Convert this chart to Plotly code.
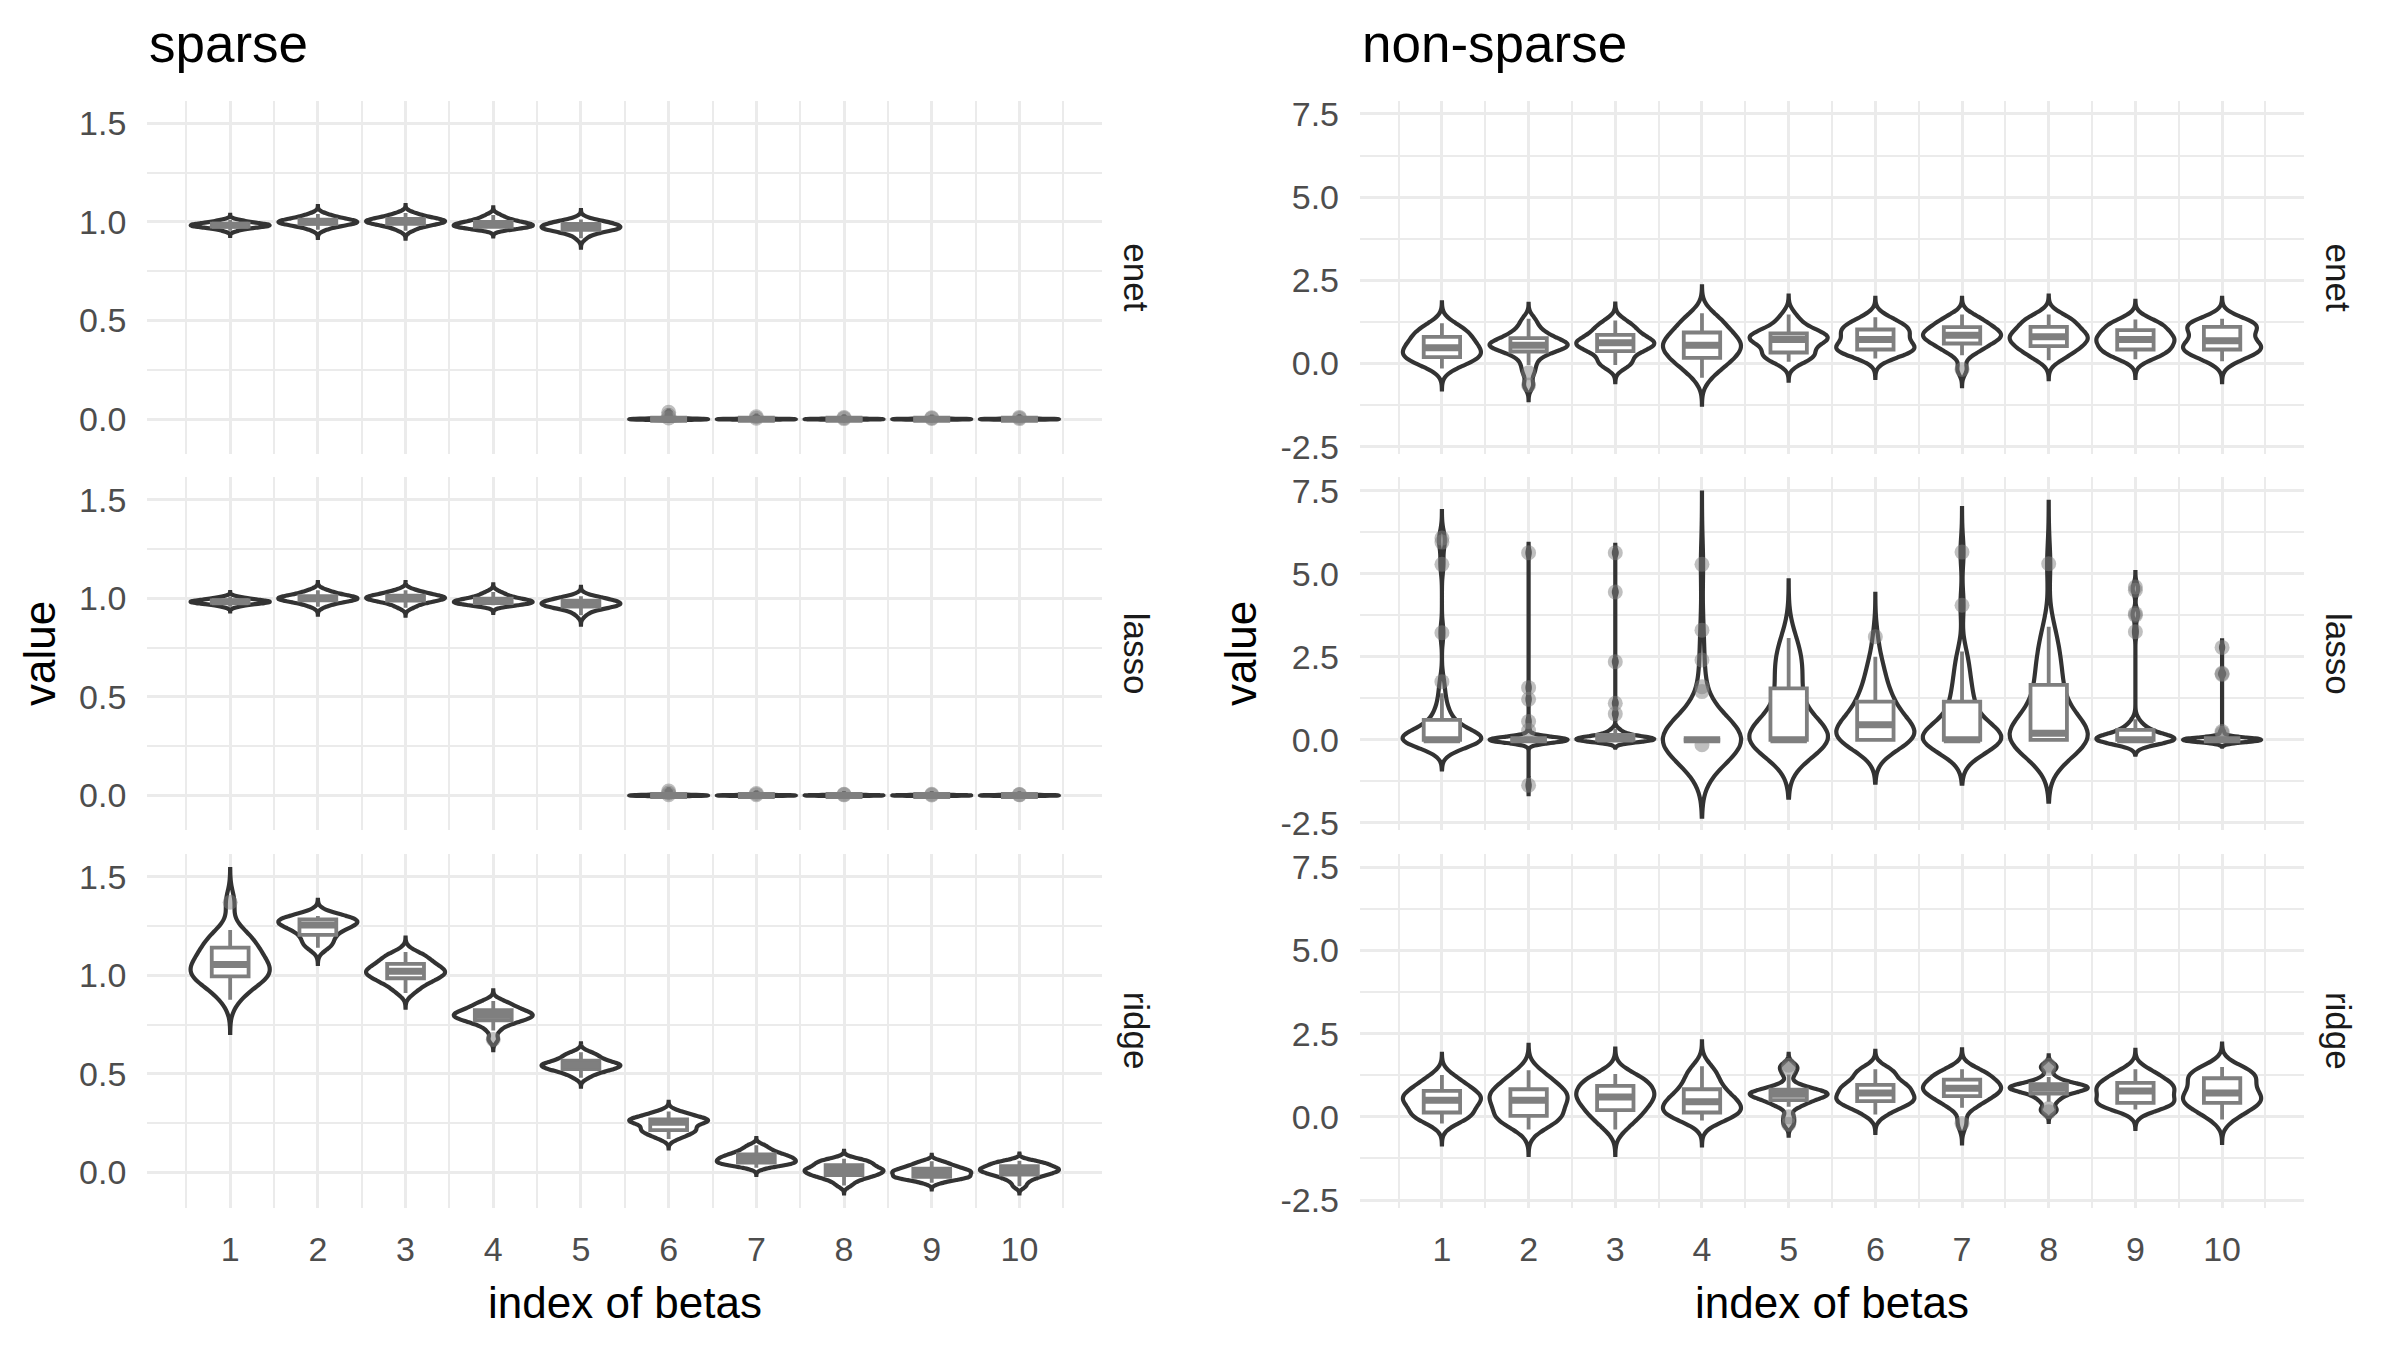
import numpy as np
import plotly.graph_objects as go

# ---------------- data ----------------
betas = [1, 2, 3, 4, 5, 6, 7, 8, 9, 10]
methods = ["enet", "lasso", "ridge"]
panel_titles = ["sparse", "non-sparse"]

y_ticks_sparse = [0.0, 0.5, 1.0, 1.5]
y_ticklabels_sparse = ["0.0", "0.5", "1.0", "1.5"]
y_ticks_nonsparse = [-2.5, 0.0, 2.5, 5.0, 7.5]
y_ticklabels_nonsparse = ["-2.5", "0.0", "2.5", "5.0", "7.5"]

sparse_enet = [
    [0.955, 0.962, 0.967, 0.971, 0.974, 0.976, 0.978, 0.980, 0.981, 0.982, 0.983, 0.984, 0.985, 0.987, 0.989, 0.991, 0.994, 0.997, 1.000, 1.005, 1.010],
    [0.960, 0.970, 0.977, 0.983, 0.987, 0.990, 0.993, 0.995, 0.997, 0.999, 1.000, 1.001, 1.003, 1.005, 1.008, 1.011, 1.015, 1.020, 1.027, 1.033, 1.040],
    [0.955, 0.967, 0.976, 0.982, 0.987, 0.990, 0.994, 0.997, 0.999, 1.001, 1.003, 1.005, 1.007, 1.009, 1.012, 1.015, 1.019, 1.024, 1.030, 1.037, 1.045],
    [0.965, 0.968, 0.970, 0.972, 0.974, 0.975, 0.978, 0.981, 0.983, 0.985, 0.987, 0.989, 0.991, 0.994, 0.997, 1.000, 1.005, 1.011, 1.018, 1.026, 1.035],
    [0.917, 0.935, 0.948, 0.955, 0.958, 0.960, 0.963, 0.966, 0.969, 0.972, 0.975, 0.977, 0.979, 0.981, 0.984, 0.990, 0.993, 0.997, 1.001, 1.006, 1.012],
    [0, 0, 0, 0, 0, 0, 0, 0, 0, 0, 0, 0, 0, 0, 0, 0, 0, 0, 0.006, 0.020, 0.035],
    [0, 0, 0, 0, 0, 0, 0, 0, 0, 0, 0, 0, 0, 0, 0, 0, 0, 0, 0, 0.005, 0.012],
    [0, 0, 0, 0, 0, 0, 0, 0, 0, 0, 0, 0, 0, 0, 0, 0, 0, 0, 0, 0.003, 0.008],
    [0, 0, 0, 0, 0, 0, 0, 0, 0, 0, 0, 0, 0, 0, 0, 0, 0, 0, 0, 0.004, 0.007],
    [0, 0, 0, 0, 0, 0, 0, 0, 0, 0, 0, 0, 0, 0, 0, 0, 0, 0, 0, 0.003, 0.009],
]
sparse_lasso = [
    [0.958, 0.963, 0.968, 0.972, 0.975, 0.977, 0.979, 0.980, 0.981, 0.982, 0.983, 0.984, 0.985, 0.986, 0.988, 0.990, 0.993, 0.996, 0.999, 1.003, 1.008],
    [0.958, 0.969, 0.977, 0.982, 0.986, 0.990, 0.993, 0.995, 0.997, 0.999, 1.000, 1.002, 1.004, 1.006, 1.009, 1.012, 1.016, 1.021, 1.028, 1.035, 1.042],
    [0.953, 0.963, 0.973, 0.980, 0.985, 0.989, 0.993, 0.996, 0.998, 1.000, 1.002, 1.004, 1.006, 1.008, 1.011, 1.014, 1.018, 1.023, 1.029, 1.036, 1.042],
    [0.966, 0.969, 0.971, 0.973, 0.975, 0.976, 0.978, 0.980, 0.982, 0.984, 0.986, 0.988, 0.990, 0.993, 0.996, 0.999, 1.004, 1.010, 1.017, 1.025, 1.033],
    [0.915, 0.934, 0.947, 0.954, 0.957, 0.959, 0.962, 0.965, 0.968, 0.971, 0.974, 0.976, 0.978, 0.980, 0.983, 0.989, 0.992, 0.996, 1.000, 1.005, 1.011],
    [0, 0, 0, 0, 0, 0, 0, 0, 0, 0, 0, 0, 0, 0, 0, 0, 0, 0, 0.004, 0.012, 0.022],
    [0, 0, 0, 0, 0, 0, 0, 0, 0, 0, 0, 0, 0, 0, 0, 0, 0, 0, 0, 0.004, 0.010],
    [0, 0, 0, 0, 0, 0, 0, 0, 0, 0, 0, 0, 0, 0, 0, 0, 0, 0, 0, 0.003, 0.006],
    [0, 0, 0, 0, 0, 0, 0, 0, 0, 0, 0, 0, 0, 0, 0, 0, 0, 0, 0, 0.002, 0.006],
    [0, 0, 0, 0, 0, 0, 0, 0, 0, 0, 0, 0, 0, 0, 0, 0, 0, 0, 0, 0.003, 0.005],
]
sparse_ridge = [
    [0.876, 0.920, 0.950, 0.970, 0.985, 0.995, 1.005, 1.015, 1.025, 1.040, 1.055, 1.070, 1.085, 1.100, 1.120, 1.140, 1.160, 1.180, 1.200, 1.230, 1.370],
    [1.140, 1.150, 1.160, 1.180, 1.200, 1.205, 1.220, 1.235, 1.245, 1.250, 1.255, 1.260, 1.265, 1.270, 1.275, 1.283, 1.287, 1.290, 1.293, 1.297, 1.300],
    [0.910, 0.935, 0.952, 0.965, 0.976, 0.985, 0.993, 1.000, 1.007, 1.013, 1.020, 1.026, 1.032, 1.039, 1.047, 1.058, 1.068, 1.079, 1.090, 1.103, 1.118],
    [0.675, 0.720, 0.745, 0.758, 0.766, 0.772, 0.778, 0.784, 0.789, 0.794, 0.798, 0.802, 0.806, 0.810, 0.816, 0.823, 0.830, 0.838, 0.847, 0.858, 0.870],
    [0.480, 0.497, 0.508, 0.515, 0.520, 0.525, 0.530, 0.535, 0.539, 0.542, 0.545, 0.548, 0.551, 0.555, 0.560, 0.567, 0.574, 0.582, 0.590, 0.600, 0.610],
    [0.170, 0.185, 0.195, 0.203, 0.210, 0.215, 0.222, 0.229, 0.236, 0.245, 0.255, 0.258, 0.261, 0.264, 0.267, 0.270, 0.276, 0.283, 0.290, 0.300, 0.310],
    [0.024, 0.035, 0.040, 0.044, 0.047, 0.050, 0.054, 0.058, 0.062, 0.066, 0.070, 0.074, 0.078, 0.082, 0.087, 0.092, 0.098, 0.105, 0.114, 0.125, 0.139],
    [-0.065, -0.045, -0.032, -0.024, -0.018, -0.013, -0.007, -0.002, 0.003, 0.007, 0.011, 0.015, 0.019, 0.024, 0.030, 0.037, 0.043, 0.049, 0.055, 0.062, 0.070],
    [-0.052, -0.040, -0.033, -0.028, -0.025, -0.022, -0.018, -0.013, -0.009, -0.004, 0.000, 0.003, 0.007, 0.011, 0.015, 0.020, 0.025, 0.031, 0.038, 0.047, 0.057],
    [-0.070, -0.048, -0.033, -0.024, -0.016, -0.010, -0.005, 0.000, 0.004, 0.008, 0.012, 0.016, 0.019, 0.022, 0.027, 0.032, 0.037, 0.042, 0.048, 0.054, 0.060],
]

nonsparse_enet = [
    [-0.15, 0.00, 0.08, 0.12, 0.16, 0.19, 0.25, 0.31, 0.37, 0.42, 0.47, 0.52, 0.58, 0.64, 0.72, 0.80, 0.86, 0.93, 1.00, 1.10, 1.21],
    [-0.65, -0.28, -0.05, 0.15, 0.28, 0.36, 0.42, 0.47, 0.50, 0.53, 0.55, 0.58, 0.61, 0.65, 0.70, 0.76, 0.82, 0.90, 1.00, 1.15, 1.34],
    [-0.05, -0.02, 0.03, 0.20, 0.33, 0.37, 0.45, 0.50, 0.54, 0.58, 0.62, 0.64, 0.67, 0.70, 0.77, 0.86, 0.93, 1.00, 1.08, 1.18, 1.29],
    [-0.43, -0.20, -0.05, 0.05, 0.12, 0.17, 0.28, 0.38, 0.45, 0.50, 0.55, 0.60, 0.66, 0.72, 0.82, 0.93, 1.00, 1.10, 1.22, 1.35, 1.51],
    [0.05, 0.12, 0.20, 0.25, 0.29, 0.33, 0.45, 0.58, 0.65, 0.69, 0.72, 0.75, 0.78, 0.81, 0.85, 0.90, 0.95, 1.03, 1.12, 1.28, 1.47],
    [0.15, 0.25, 0.33, 0.38, 0.40, 0.42, 0.47, 0.52, 0.56, 0.62, 0.72, 0.80, 0.86, 0.92, 0.97, 1.02, 1.07, 1.13, 1.20, 1.30, 1.39],
    [-0.18, 0.25, 0.38, 0.47, 0.55, 0.60, 0.66, 0.72, 0.77, 0.81, 0.85, 0.88, 0.92, 0.96, 1.02, 1.09, 1.14, 1.20, 1.27, 1.36, 1.47],
    [0.10, 0.22, 0.32, 0.40, 0.47, 0.52, 0.59, 0.65, 0.70, 0.75, 0.80, 0.84, 0.88, 0.93, 1.00, 1.10, 1.15, 1.22, 1.30, 1.38, 1.47],
    [0.13, 0.22, 0.30, 0.35, 0.39, 0.42, 0.50, 0.58, 0.64, 0.68, 0.72, 0.76, 0.80, 0.85, 0.92, 1.00, 1.06, 1.12, 1.18, 1.25, 1.32],
    [0.07, 0.18, 0.27, 0.33, 0.38, 0.42, 0.47, 0.52, 0.56, 0.60, 0.68, 0.78, 0.88, 0.95, 1.02, 1.10, 1.14, 1.18, 1.23, 1.28, 1.34],
]
nonsparse_lasso = [
    [-0.08, 0, 0, 0, 0, 0, 0, 0, 0, 0, 0, 0, 0, 0, 0, 0, 0, 0, 0, 0, 0,
     0.05, 0.10, 0.15, 0.20, 0.27, 0.33, 0.40, 0.47, 0.54, 0.60, 0.68, 0.80, 0.95, 1.15, 1.40,
     1.75, 3.22, 5.28, 5.95, 6.07],
    [-1.37, 0, 0, 0, 0, 0, 0, 0, 0, 0, 0, 0, 0, 0, 0, 0, 0, 0, 0, 0, 0,
     0, 0, 0, 0, 0, 0, 0, 0, 0, 0, 0, 0, 0, 0, 0, 0.28, 0.55, 1.22, 1.57, 5.63],
    [0, 0, 0, 0, 0, 0, 0, 0, 0, 0, 0, 0, 0, 0, 0, 0, 0, 0, 0, 0,
     0.02, 0.03, 0.04, 0.05, 0.06, 0.07, 0.08, 0.10, 0.11, 0.13, 0.15, 0.17, 0.20, 0.24, 0.28, 0.33,
     0.78, 1.10, 2.35, 4.45, 5.63],
    [-0.15, 0, 0, 0, 0, 0, 0, 0, 0, 0, 0, 0, 0, 0, 0, 0, 0, 0, 0, 0, 0,
     0, 0, 0, 0, 0, 0, 0, 0, 0, 0, 0, 0, 0, 0, 0, 1.45, 1.60, 2.40, 3.30, 5.28],
    [0, 0, 0, 0, 0, 0, 0, 0, 0, 0, 0, 0, 0, 0, 0, 0, 0, 0, 0, 0, 0,
     0.10, 0.20, 0.35, 0.50, 0.65, 0.80, 1.00, 1.20, 1.40, 1.55, 1.70, 1.85, 2.00, 2.15, 2.30,
     2.45, 2.60, 2.75, 2.90, 3.06],
    [0, 0, 0, 0, 0, 0, 0, 0, 0, 0, 0,
     0.04, 0.08, 0.12, 0.17, 0.22, 0.27, 0.32, 0.37, 0.41, 0.45, 0.50, 0.56, 0.62, 0.68, 0.75,
     0.82, 0.90, 0.98, 1.06, 1.15, 1.25, 1.35, 1.45, 1.60, 1.75, 1.90, 2.10, 2.30, 2.50, 3.10],
    [0, 0, 0, 0, 0, 0, 0, 0, 0, 0, 0, 0, 0, 0, 0, 0, 0, 0, 0, 0, 0,
     0.10, 0.20, 0.30, 0.42, 0.55, 0.68, 0.80, 0.92, 1.04, 1.15, 1.30, 1.45, 1.60, 1.80, 2.00,
     2.20, 2.45, 2.66, 4.05, 5.65],
    [0, 0, 0, 0, 0, 0, 0, 0, 0, 0, 0, 0, 0, 0, 0,
     0.02, 0.05, 0.08, 0.12, 0.16, 0.20, 0.30, 0.40, 0.55, 0.70, 0.85, 1.00, 1.15, 1.30, 1.48,
     1.65, 1.80, 1.95, 2.10, 2.30, 2.50, 2.70, 2.90, 3.15, 3.40, 5.30],
    [0, 0, 0, 0, 0, 0, 0, 0, 0, 0, 0, 0, 0, 0, 0, 0, 0, 0, 0, 0, 0,
     0.02, 0.04, 0.07, 0.10, 0.13, 0.16, 0.20, 0.23, 0.27, 0.30, 0.33, 0.37, 0.42, 0.50, 0.62,
     3.25, 3.75, 3.80, 4.50, 4.60],
    [0, 0, 0, 0, 0, 0, 0, 0, 0, 0, 0, 0, 0, 0, 0, 0, 0, 0, 0, 0, 0,
     0, 0, 0, 0, 0, 0, 0, 0, 0, 0, 0, 0, 0, 0, 0, 0.20, 0.25, 1.97, 2.00, 2.78],
]
nonsparse_ridge = [
    [-0.20, -0.08, 0.00, 0.06, 0.10, 0.13, 0.25, 0.35, 0.42, 0.47, 0.50, 0.55, 0.60, 0.65, 0.70, 0.78, 0.84, 0.92, 1.00, 1.12, 1.26],
    [-0.38, -0.22, -0.10, -0.03, 0.00, 0.03, 0.15, 0.27, 0.36, 0.44, 0.50, 0.56, 0.62, 0.68, 0.75, 0.83, 0.90, 1.00, 1.10, 1.24, 1.40],
    [-0.38, -0.20, -0.05, 0.06, 0.14, 0.20, 0.30, 0.40, 0.48, 0.55, 0.60, 0.65, 0.70, 0.76, 0.84, 0.93, 1.00, 1.07, 1.14, 1.21, 1.29],
    [-0.11, -0.02, 0.04, 0.08, 0.11, 0.13, 0.20, 0.27, 0.33, 0.39, 0.45, 0.51, 0.57, 0.64, 0.72, 0.83, 0.95, 1.08, 1.22, 1.36, 1.52],
    [-0.22, 0.00, 0.30, 0.38, 0.45, 0.50, 0.55, 0.60, 0.63, 0.66, 0.68, 0.70, 0.72, 0.75, 0.78, 0.82, 0.88, 0.98, 1.27, 1.45, 1.55],
    [0.07, 0.20, 0.30, 0.38, 0.43, 0.47, 0.51, 0.55, 0.58, 0.62, 0.72, 0.80, 0.85, 0.90, 0.93, 0.96, 1.05, 1.20, 1.32, 1.38, 1.43],
    [-0.20, 0.27, 0.38, 0.47, 0.55, 0.62, 0.68, 0.74, 0.78, 0.82, 0.86, 0.90, 0.94, 0.98, 1.04, 1.12, 1.18, 1.24, 1.30, 1.37, 1.43],
    [0.15, 0.25, 0.45, 0.55, 0.64, 0.70, 0.75, 0.79, 0.82, 0.84, 0.86, 0.88, 0.90, 0.92, 0.95, 0.98, 1.02, 1.08, 1.20, 1.45, 1.55],
    [0.22, 0.30, 0.35, 0.38, 0.40, 0.42, 0.48, 0.56, 0.64, 0.72, 0.78, 0.82, 0.86, 0.90, 0.96, 1.02, 1.08, 1.15, 1.23, 1.33, 1.43],
    [-0.08, 0.10, 0.20, 0.30, 0.37, 0.42, 0.48, 0.54, 0.60, 0.66, 0.72, 0.80, 0.90, 1.00, 1.08, 1.16, 1.22, 1.29, 1.36, 1.43, 1.50],
]

# ---------------- style ----------------
# kernel bandwidths per violin
bw_sparse_enet = [0.0085, 0.0135, 0.0135, 0.013, 0.016, 0.003, 0.002, 0.002, 0.002, 0.002]
bw_sparse_lasso = [0.008, 0.0135, 0.0135, 0.013, 0.016, 0.003, 0.002, 0.002, 0.002, 0.002]
bw_sparse_ridge = [0.056, 0.0275, 0.0245, 0.018, 0.015, 0.016, 0.012, 0.0135, 0.011, 0.012]
bw_nonsparse_enet = [0.21, 0.15, 0.17, 0.27, 0.19, 0.195, 0.167, 0.19, 0.187, 0.21]
bw_nonsparse_lasso = [0.27, 0.09, 0.08, 0.72, 0.58, 0.43, 0.44, 0.62, 0.15, 0.07]
bw_nonsparse_ridge = [0.21, 0.255, 0.255, 0.25, 0.115, 0.185, 0.2, 0.1, 0.195, 0.235]

FONT = "Liberation Sans, Arial, Helvetica, sans-serif"
W, H = 2400, 1350
GRID = "#ebebeb"
VIOLIN_LINE = "#333333"
BOX_LINE = "#7f7f7f"

x_px = [(147.3, 1102.3), (1360.0, 2304.0)]
y_px = [(96.0, 454.0), (477.5, 835.0), (859.0, 1217.0)]
x_range = [0.055, 10.945]
y_ranges = [[-0.178, 1.614], [-2.73, 7.895]]

panels = [
    ([sparse_enet, sparse_lasso, sparse_ridge],
     [bw_sparse_enet, bw_sparse_lasso, bw_sparse_ridge],
     y_ticks_sparse, y_ticklabels_sparse),
    ([nonsparse_enet, nonsparse_lasso, nonsparse_ridge],
     [bw_nonsparse_enet, bw_nonsparse_lasso, bw_nonsparse_ridge],
     y_ticks_nonsparse, y_ticklabels_nonsparse),
]

fig = go.Figure()
layout = {}
annotations = []

for col, (facets, bws, yt, ytl) in enumerate(panels):
    for row, (samples_list, bw_list) in enumerate(zip(facets, bws)):
        a = col * 3 + row + 1
        xname = "x" if a == 1 else f"x{a}"
        yname = "y" if a == 1 else f"y{a}"
        xkey = "xaxis" if a == 1 else f"xaxis{a}"
        ykey = "yaxis" if a == 1 else f"yaxis{a}"

        # violins
        for k, s, b in zip(betas, samples_list, bw_list):
            fig.add_trace(go.Violin(
                x0=k, y=s, xaxis=xname, yaxis=yname,
                bandwidth=b, spanmode="manual",
                span=[min(s) - 3 * b, max(s) + 3 * b],
                scalemode="width", scalegroup=f"g{a}_{k}", width=0.9,
                line=dict(color=VIOLIN_LINE, width=4.2), fillcolor="white",
                points=False, box_visible=False, meanline_visible=False,
                showlegend=False, hoverinfo="skip", orientation="v",
            ))

        # boxplots with outliers
        xs = [k for k, s in zip(betas, samples_list) for _ in s]
        ys = [v for s in samples_list for v in s]
        fig.add_trace(go.Box(
            x=xs, y=ys, xaxis=xname, yaxis=yname,
            width=0.42, quartilemethod="inclusive",
            boxpoints="outliers", jitter=0, pointpos=0, whiskerwidth=0,
            line=dict(color=BOX_LINE, width=3.8), fillcolor="white",
            marker=dict(color="rgba(127,127,127,0.5)", size=15, line=dict(width=0)),
            showlegend=False, hoverinfo="skip",
        ))
        # thicker median line (as in ggplot's fatten=2)
        meds = [float(np.median(s)) for s in samples_list]
        fig.add_trace(go.Box(
            x=betas, q1=meds, median=meds, q3=meds, lowerfence=meds, upperfence=meds,
            xaxis=xname, yaxis=yname, width=0.42, whiskerwidth=0,
            line=dict(color=BOX_LINE, width=7), fillcolor=BOX_LINE,
            boxpoints=False, showlegend=False, hoverinfo="skip",
        ))

        x0p, x1p = x_px[col]
        y0p, y1p = y_px[row]
        minor_x = [k - 0.5 for k in betas] + [betas[-1] + 0.5]
        minor_y = [(p + q) / 2 for p, q in zip(yt[:-1], yt[1:])]
        layout[xkey] = dict(
            domain=[x0p / W, x1p / W], anchor=yname, range=x_range,
            tickmode="array", tickvals=betas, ticktext=[str(b) for b in betas],
            showticklabels=(row == 2), ticks="", ticklabelstandoff=18,
            tickfont=dict(family=FONT, size=34, color="#4d4d4d"),
            showgrid=True, gridcolor=GRID, gridwidth=3.3,
            minor=dict(tickmode="array", tickvals=minor_x, showgrid=True,
                       gridcolor=GRID, gridwidth=2, ticks=""),
            zeroline=False, showline=False, fixedrange=True,
        )
        layout[ykey] = dict(
            domain=[1 - y1p / H, 1 - y0p / H], anchor=xname, range=y_ranges[col],
            tickmode="array", tickvals=yt, ticktext=ytl,
            ticks="", ticklabelstandoff=20,
            tickfont=dict(family=FONT, size=34, color="#4d4d4d"),
            showgrid=True, gridcolor=GRID, gridwidth=3.3,
            minor=dict(tickmode="array", tickvals=minor_y, showgrid=True,
                       gridcolor=GRID, gridwidth=2, ticks=""),
            zeroline=False, showline=False, fixedrange=True,
        )

        # strip label
        annotations.append(dict(
            text=methods[row], xref="paper", yref="paper",
            x=(x1p + 34) / W, y=1 - (y0p + y1p) / 2 / H,
            xanchor="center", yanchor="middle", textangle=90, showarrow=False,
            font=dict(family=FONT, size=35, color="#1a1a1a"),
        ))

    x0p, x1p = x_px[col]
    # panel title
    annotations.append(dict(
        text=panel_titles[col], xref="paper", yref="paper",
        x=x0p / W, y=1 - 37.5 / H, xanchor="left", yanchor="middle",
        showarrow=False, font=dict(family=FONT, size=53, color="black"),
    ))
    # x title
    annotations.append(dict(
        text="index of betas", xref="paper", yref="paper",
        x=(x0p + x1p) / 2 / W, y=1 - 1313.5 / H, xanchor="center", yanchor="middle",
        showarrow=False, font=dict(family=FONT, size=44, color="black"),
    ))
    # y title
    ytitle_x = [40.0, 1241.0][col]
    annotations.append(dict(
        text="value", xref="paper", yref="paper",
        x=ytitle_x / W, y=1 - (y_px[1][0] + y_px[1][1]) / 2 / H,
        xanchor="center", yanchor="middle", textangle=-90,
        showarrow=False, font=dict(family=FONT, size=44, color="black"),
    ))

fig.update_layout(
    width=W, height=H, margin=dict(l=0, r=0, t=0, b=0),
    paper_bgcolor="white", plot_bgcolor="white",
    violinmode="overlay", boxmode="overlay",
    font=dict(family=FONT), annotations=annotations, showlegend=False,
    **layout,
)

fig.write_html("out.html")
